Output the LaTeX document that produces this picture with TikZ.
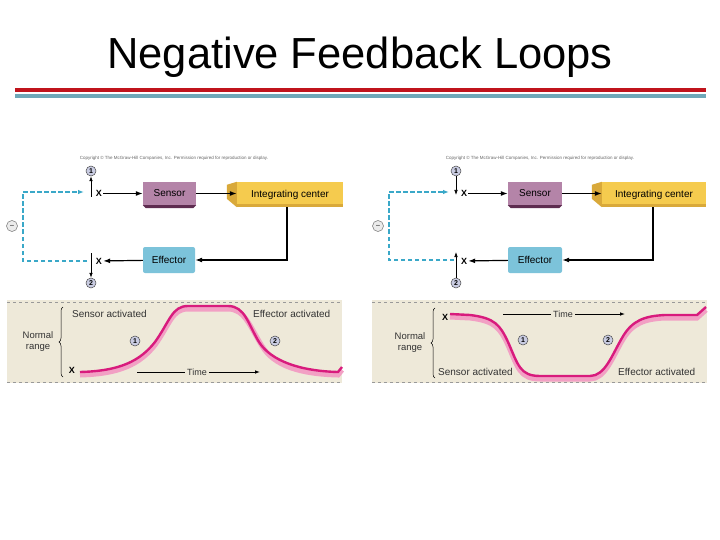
\documentclass[tikz,border=0pt]{standalone}
\usepackage{fontspec}
\setmainfont{Liberation Sans}
\usepackage{xcolor}
\usepackage{tikz}
\usetikzlibrary{arrows.meta,positioning,calc,decorations.pathreplacing}
\definecolor{barred}{RGB}{192,20,28}
\definecolor{barblue}{RGB}{111,168,184}
\definecolor{sensfill}{RGB}{180,132,168}
\definecolor{sensdark}{RGB}{94,44,80}
\definecolor{intfill}{RGB}{245,203,78}
\definecolor{intside}{RGB}{217,169,58}
\definecolor{efffill}{RGB}{124,195,218}
\definecolor{feedcyan}{RGB}{58,168,200}
\definecolor{panelbg}{RGB}{238,233,217}
\definecolor{curvedark}{RGB}{216,27,125}
\definecolor{curvelight}{RGB}{242,160,196}
\definecolor{circfill}{RGB}{201,204,226}

\begin{document}
\begin{tikzpicture}[x=1pt,y=-1pt,
    boxlab/.style={inner sep=0pt, font=\fontsize{10}{10}\selectfont},
    xlab/.style={inner sep=1pt, font=\fontsize{9}{9}\selectfont\bfseries},
    numcirc/.style={circle, draw=black!70, fill=circfill, line width=0.5pt, inner sep=0pt, minimum size=10pt, font=\fontsize{7}{7}\selectfont\bfseries},
    minuscirc/.style={circle, draw=black!55, fill=black!8, line width=0.5pt, inner sep=0pt, minimum size=11pt, font=\fontsize{7}{7}\selectfont},
    conn/.style={-{Latex[length=7pt,width=5pt]}, line width=1.2pt},
    thinconn/.style={-{Latex[length=5pt,width=3.6pt]}, line width=0.7pt},
    feed/.style={dash pattern=on 4.5pt off 2.5pt, feedcyan, line width=1.1pt},
    graphlab/.style={inner sep=0pt, font=\fontsize{10}{10}\selectfont, text=black!80},
    copytext/.style={inner sep=0pt, font=\fontsize{4.5}{4.5}\selectfont, text=black!60}]
\useasboundingbox (0,0) rectangle (720,540);
\fill[white] (0,0) rectangle (720,540);

% title and bars
\node[font=\fontsize{43.5}{44}\selectfont] (title) at (360,57) {Negative Feedback Loops};
\fill[barred] (15,88) rectangle (706,92);
\fill[barblue] (15,94) rectangle (706,98);

% ---------- left loop ----------
\node[copytext] (copyL) at (174,158) {Copyright \textcopyright{} The McGraw-Hill Companies, Inc. Permission required for reproduction or display.};
\node[boxlab, fill=sensfill, minimum width=53pt, minimum height=23pt] (sensL) at (169.5,193.5) {Sensor};
\fill[sensdark] (sensL.south west) -- (sensL.south east) -- ++(-3,3) -- ($(sensL.south west)+(3,3)$) -- cycle;
\node[boxlab, fill=intfill, minimum width=106pt, minimum height=25pt] (intL) at (290,194.5) {Integrating center};
\fill[intside] (intL.north west) -- ++(-10,3) -- ++(0,14) -- (intL.south west) -- cycle;
\fill[intside] (intL.south west) rectangle ($(intL.south east)+(0,-3)$);
\node[boxlab, fill=efffill, rounded corners=2pt, minimum width=52pt, minimum height=26pt] (effL) at (169,260) {Effector};
\node[xlab] (xTopL) at (99,193.5) {X};
\node[xlab] (xBotL) at (99,261) {X};
\node[numcirc] (oneL) at (91,171) {1};
\node[numcirc] (twoL) at (91,283) {2};
\node[minuscirc] (minusL) at (12,226) {--};
\coordinate (upL) at (91,197);
\coordinate (dnL) at (91,253);
\coordinate (turnL) at (287,260);
\coordinate (fbTopL) at (84,192);
\coordinate (fbC1L) at (23,192);
\coordinate (fbC2L) at (23,261);
\coordinate (fbBotL) at (87,261);

\draw[conn] (xTopL) -- (sensL);
\draw[conn] (sensL) -- (sensL -| intL.west);
\draw[conn] (intL.south -| turnL) -- (turnL) -- (effL.east);
\draw[conn] (effL) -- (xBotL);
\draw[thinconn] (upL) -- (oneL.south);
\draw[thinconn] (dnL) -- (twoL.north);
\draw[feed, -{Latex[length=6pt,width=4.5pt]}] (fbBotL) -- (fbC2L) -- (fbC1L) -- (fbTopL);

% ---------- right loop ----------
\node[copytext] (copyR) at (540,158) {Copyright \textcopyright{} The McGraw-Hill Companies, Inc. Permission required for reproduction or display.};
\node[boxlab, fill=sensfill, minimum width=54pt, minimum height=23pt] (sensR) at (535,193.5) {Sensor};
\fill[sensdark] (sensR.south west) -- (sensR.south east) -- ++(-3,3) -- ($(sensR.south west)+(3,3)$) -- cycle;
\node[boxlab, fill=intfill, minimum width=104pt, minimum height=25pt] (intR) at (654,194.5) {Integrating center};
\fill[intside] (intR.north west) -- ++(-10,3) -- ++(0,14) -- (intR.south west) -- cycle;
\fill[intside] (intR.south west) rectangle ($(intR.south east)+(0,-3)$);
\node[boxlab, fill=efffill, rounded corners=2pt, minimum width=54pt, minimum height=26pt] (effR) at (535,260) {Effector};
\node[xlab] (xTopR) at (464,193.5) {X};
\node[xlab] (xBotR) at (464,261) {X};
\node[numcirc] (oneR) at (456,171) {1};
\node[numcirc] (twoR) at (456,283) {2};
\node[minuscirc] (minusR) at (378,226) {--};
\coordinate (upR) at (456,195);
\coordinate (dnR) at (456,252);
\coordinate (turnR) at (653,260);
\coordinate (fbTopR) at (449,192);
\coordinate (fbC1R) at (389,192);
\coordinate (fbC2R) at (389,260);
\coordinate (fbBotR) at (454,260);

\draw[conn] (xTopR) -- (sensR);
\draw[conn] (sensR) -- (sensR -| intR.west);
\draw[conn] (intR.south -| turnR) -- (turnR) -- (effR.east);
\draw[conn] (effR) -- (xBotR);
\draw[thinconn] (oneR.south) -- (upR);
\draw[thinconn] (twoR.north) -- (dnR);
\draw[feed, -{Latex[length=6pt,width=4.5pt]}] (fbBotR) -- (fbC2R) -- (fbC1R) -- (fbTopR);

% ---------- left graph ----------
\fill[panelbg] (7,300) rectangle (342,383);
\draw[black!40, dashed, line width=0.6pt] (7,302) -- (342,302);
\draw[black!40, dashed, line width=0.6pt] (7,382) -- (342,382);
\draw[curvelight, line width=5pt] (80,375) .. controls (120,374) and (140,364) .. (155,345) .. controls (170,324) and (172,309) .. (188,309) -- (228,309) .. controls (245,309) and (250,327) .. (262,346) .. controls (274,366) and (300,374) .. (338,375) -- (342,370);
\draw[curvedark, line width=2.4pt] (80,372) .. controls (120,371) and (140,361) .. (155,342) .. controls (170,321) and (172,306) .. (188,306) -- (228,306) .. controls (245,306) and (248,324) .. (259,342) .. controls (271,361) and (300,371) .. (338,372) -- (342,367);
\draw[decorate, decoration={brace, amplitude=4pt}, line width=0.5pt] (63,377) -- (63,307);
\node[graphlab, align=center, font=\fontsize{9.5}{11}\selectfont] (rangeL) at (38,342) {Normal\\range};
\node[graphlab, anchor=west] (sactL) at (72,314) {Sensor activated};
\node[graphlab, anchor=west] (eactL) at (253,314) {Effector activated};
\node[xlab] (xGL) at (72,370) {X};
\node[numcirc] (gOneL) at (135,341) {1};
\node[numcirc] (gTwoL) at (275,341) {2};
\coordinate (tStartL) at (137,372);
\coordinate (tEndL) at (260,372);
\node[graphlab, fill=panelbg, inner sep=2pt, font=\fontsize{9}{9}\selectfont] (timeL) at (197,372) {Time};
\draw[line width=0.9pt] (tStartL) -- (timeL.west);
\draw[thinconn, line width=0.9pt] (timeL.east) -- (tEndL);

% ---------- right graph ----------
\fill[panelbg] (372,300) rectangle (707,383);
\draw[black!40, dashed, line width=0.6pt] (372,302) -- (707,302);
\draw[black!40, dashed, line width=0.6pt] (372,382) -- (707,382);
\draw[curvelight, line width=5pt] (450,317) -- (470,318) .. controls (495,321) and (500,328) .. (508,345) .. controls (518,368) and (520,379) .. (540,379) -- (590,379) .. controls (605,379) and (612,358) .. (622,341) .. controls (632,323) and (645,319) .. (665,318) -- (697,318) -- (706,310);
\draw[curvedark, line width=2.4pt] (450,314) -- (470,315) .. controls (495,318) and (500,325) .. (508,342) .. controls (518,365) and (520,376) .. (540,376) -- (590,376) .. controls (605,376) and (612,355) .. (622,338) .. controls (632,320) and (645,316) .. (665,315) -- (697,315) -- (706,307);
\draw[decorate, decoration={brace, amplitude=4pt}, line width=0.5pt] (435,378) -- (435,308);
\node[graphlab, align=center, font=\fontsize{9.5}{11}\selectfont] (rangeR) at (410,343) {Normal\\range};
\node[graphlab, anchor=west] (sactR) at (438,372) {Sensor activated};
\node[graphlab, anchor=west] (eactR) at (618,372) {Effector activated};
\node[xlab] (xGR) at (445,317) {X};
\node[numcirc] (gOneR) at (523,340) {1};
\node[numcirc] (gTwoR) at (608,340) {2};
\coordinate (tStartR) at (503,314);
\coordinate (tEndR) at (625,314);
\node[graphlab, fill=panelbg, inner sep=2pt, font=\fontsize{9}{9}\selectfont] (timeR) at (563,314) {Time};
\draw[line width=0.9pt] (tStartR) -- (timeR.west);
\draw[thinconn, line width=0.9pt] (timeR.east) -- (tEndR);
\end{tikzpicture}
\end{document}
